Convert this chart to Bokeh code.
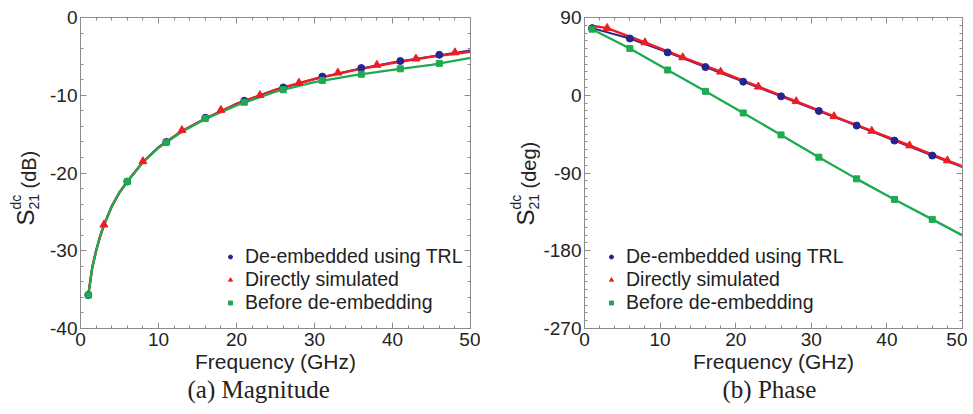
import math
from bokeh.plotting import figure
from bokeh.models import (LinearAxis, Label, Legend, LegendItem, Range1d, FixedTicker, Title,
                          CustomLabelingPolicy)
from bokeh.layouts import row
from bokeh.embed import file_html
from bokeh.resources import INLINE

# ---------------- data ----------------
freq_trl = [1, 6, 11, 16, 21, 26, 31, 36, 41, 46]
freq_sim = [3, 8, 13, 18, 23, 28, 33, 38, 43, 48]
freq_bef = [1, 6, 11, 16, 21, 26, 31, 36, 41, 46]

mag_trl = [-35.7, -21.1, -16.0, -12.9, -10.7, -9.0, -7.6, -6.5, -5.6, -4.8]
mag_sim = [-26.65, -18.5, -14.5, -11.9, -10.0, -8.4, -7.1, -6.1, -5.3, -4.5]
mag_bef = [-35.7, -21.1, -16.05, -13.0, -10.9, -9.3, -8.1, -7.3, -6.6, -5.9]

mag_line_freq = [1, 1.5, 2, 2.5, 3, 4, 5, 6, 8, 10, 13, 16, 20, 25, 30, 35, 40, 45, 50]
mag_line_trl = [-35.7, -32.2, -30.0, -28.2, -26.7, -24.3, -22.5, -21.1, -18.6, -16.7,
                -14.6, -13.0, -11.1, -9.3, -7.9, -6.75, -5.8, -5.0, -4.25]
mag_line_sim = [-35.7, -32.2, -30.0, -28.2, -26.7, -24.3, -22.5, -21.1, -18.6, -16.7,
                -14.6, -13.0, -11.1, -9.3, -7.9, -6.8, -5.85, -5.05, -4.4]
mag_line_bef = [-35.7, -32.2, -30.0, -28.2, -26.7, -24.3, -22.5, -21.1, -18.6, -16.75,
                -14.7, -13.05, -11.3, -9.55, -8.3, -7.45, -6.75, -6.1, -5.2]

phase_trl = [77.7, 65.7, 49.6, 32.6, 15.7, -1.3, -18.2, -35.1, -52.5, -69.8]
phase_sim = [77.7, 61.1, 43.8, 27.2, 9.9, -7.0, -24.4, -41.3, -58.2, -75.6]
phase_bef = [76.5, 54.2, 29.2, 4.5, -20.5, -45.9, -71.7, -96.8, -120.6, -143.7]

phase_line_freq_trl = [1, 6, 11, 16, 21, 26, 31, 36, 41, 46, 50]
phase_line_trl = [77.7, 65.7, 49.6, 32.6, 15.7, -1.3, -18.2, -35.1, -52.5, -69.8, -83.0]
phase_line_freq_sim = [1, 3, 8, 13, 18, 23, 28, 33, 38, 43, 48, 50]
phase_line_sim = [80.4, 77.7, 61.1, 43.8, 27.2, 9.9, -7.0, -24.4, -41.3, -58.2, -75.6, -82.2]
phase_line_freq_bef = [1, 6, 11, 16, 21, 26, 31, 36, 41, 46, 50]
phase_line_bef = [76.5, 54.2, 29.2, 4.5, -20.5, -45.9, -71.7, -96.8, -120.6, -143.7, -162.2]

x_ticks = [0, 10, 20, 30, 40, 50]
mag_ticks = [0, -10, -20, -30, -40]
phase_ticks = [90, 0, -90, -180, -270]

legend_labels = ["De-embedded using TRL", "Directly simulated", "Before de-embedding"]
captions = ["(a) Magnitude", "(b) Phase"]

# ---------------- style ----------------
BLUE = "#25258f"
RED = "#ee1c25"
GREEN = "#1eaa50"
GRAY = "#8c8c8c"
TXT = "#222222"
SANS = "Liberation Sans"
SERIF = "Liberation Serif"
H = 398


def style_ticks(ax):
    ax.axis_line_color = GRAY
    ax.major_tick_line_color = GRAY
    ax.minor_tick_line_color = GRAY
    ax.major_tick_in = 6
    ax.major_tick_out = 0
    ax.minor_tick_in = 3
    ax.minor_tick_out = 0


def make_fig(ymin, ymax, yticks, yminor, bl, br, fw):
    p = figure(frame_width=fw, frame_height=311, x_range=Range1d(0, 50),
               y_range=Range1d(ymin, ymax), output_backend="svg",
               toolbar_location=None, min_border_left=bl, min_border_right=br,
               min_border_top=17, min_border_bottom=H - 17 - 311)
    p.xgrid.visible = False
    p.ygrid.visible = False
    p.outline_line_color = GRAY
    xminor = list(range(0, 51, 2))
    p.xaxis.ticker = FixedTicker(ticks=x_ticks, minor_ticks=xminor)
    p.yaxis.ticker = FixedTicker(ticks=yticks, minor_ticks=yminor)
    p.xaxis.major_label_overrides = {t: str(t) for t in x_ticks}
    p.yaxis.major_label_overrides = {t: str(t) for t in yticks}
    for ax in [p.xaxis[0], p.yaxis[0]]:
        style_ticks(ax)
        ax.major_label_text_font = SANS
        ax.major_label_text_font_size = "19px"
        ax.major_label_text_color = TXT
    p.xaxis.major_label_standoff = 4
    p.yaxis.major_label_standoff = 3
    p.xaxis.axis_label = "Frequency (GHz)"
    p.xaxis.axis_label_text_font = SANS
    p.xaxis.axis_label_text_font_size = "21px"
    p.xaxis.axis_label_text_font_style = "normal"
    p.xaxis.axis_label_text_color = TXT
    p.xaxis.axis_label_standoff = 1
    # ticks on top and right (no labels)
    top = LinearAxis(ticker=FixedTicker(ticks=x_ticks, minor_ticks=xminor))
    right = LinearAxis(ticker=FixedTicker(ticks=yticks, minor_ticks=yminor))
    for ax in [top, right]:
        style_ticks(ax)
        ax.major_label_text_font_size = "1px"
        ax.major_label_standoff = 0
        ax.major_label_policy = CustomLabelingPolicy(
            code="for (const i of Array.from(indices)) { indices.unset(i) }\nreturn indices")
    p.add_layout(top, "above")
    p.add_layout(right, "right")
    return p


def ylab_fig(W, x0, unit_text):
    f = figure(frame_width=W, frame_height=H, x_range=Range1d(0, W), y_range=Range1d(H, 0),
               min_border=0, x_axis_location=None, y_axis_location=None,
               toolbar_location=None, output_backend="svg")
    f.outline_line_color = None
    f.xgrid.visible = False
    f.ygrid.visible = False
    a = math.pi / 2
    parts = [("S", x0 + 25, 208, "24px"), ("21", x0 + 33, 192, "14px"),
             ("dc", x0 + 15, 192, "14px"), (unit_text, x0 + 28, 171, "20px")]
    for t, x, y, fs in parts:
        f.add_layout(Label(x=x, y=y, text=t, angle=a, text_font=SANS, text_font_size=fs,
                           text_color=TXT, text_align="left", text_baseline="alphabetic"))
    return f


def add_caption(p, text, offset):
    p.add_layout(Title(text=text, align="left", offset=offset, text_font=SERIF,
                       text_font_size="25px", text_font_style="normal", text_color=TXT,
                       standoff=0, vertical_align="top"), "below")


def draw(p, lf_trl, ly_trl, lf_sim, ly_sim, lf_bef, ly_bef, y_trl, y_sim, y_bef, legend_x):
    p.line(lf_trl, ly_trl, line_color=BLUE, line_width=2)
    p.line(lf_sim, ly_sim, line_color=RED, line_width=2.5)
    p.line(lf_bef, ly_bef, line_color=GREEN, line_width=2.3)
    r1 = p.scatter(freq_trl, y_trl, marker="circle", size=7, fill_color=BLUE, line_color=BLUE)
    r2 = p.scatter(freq_sim, y_sim, marker="triangle", size=8, fill_color=RED, line_color=RED)
    r3 = p.scatter(freq_bef, y_bef, marker="square", size=6, fill_color=GREEN, line_color=GREEN)
    leg = Legend(items=[LegendItem(label=legend_labels[0], renderers=[r1]),
                        LegendItem(label=legend_labels[1], renderers=[r2]),
                        LegendItem(label=legend_labels[2], renderers=[r3])],
                 location=(legend_x, 14), padding=0, margin=0, spacing=0,
                 glyph_width=10, glyph_height=23, label_height=23, label_standoff=10,
                 label_text_font=SANS, label_text_font_size="19.5px", label_text_color=TXT,
                 border_line_alpha=0, background_fill_alpha=0)
    p.add_layout(leg, "center")


# ---------------- left: magnitude ----------------
yl1 = ylab_fig(40, 0, "(dB)")
p1 = make_fig(-40, 0, mag_ticks, list(range(-40, 1, 2)), 40, 10, 390)
draw(p1, mag_line_freq, mag_line_trl, mag_line_freq, mag_line_sim, mag_line_freq, mag_line_bef,
     mag_trl, mag_sim, mag_bef, 145)
add_caption(p1, captions[0], 107)

# ---------------- right: phase ----------------
yl2 = ylab_fig(60, 20, "(deg)")
p2 = make_fig(-270, 90, phase_ticks, list(range(-270, 91, 9)), 42, 4, 378)
draw(p2, phase_line_freq_trl, phase_line_trl, phase_line_freq_sim, phase_line_sim,
     phase_line_freq_bef, phase_line_bef, phase_trl, phase_sim, phase_bef, 22)
add_caption(p2, captions[1], 138)

layout = row(yl1, p1, yl2, p2, spacing=0)
open("out.html", "w").write(file_html(layout, INLINE))
